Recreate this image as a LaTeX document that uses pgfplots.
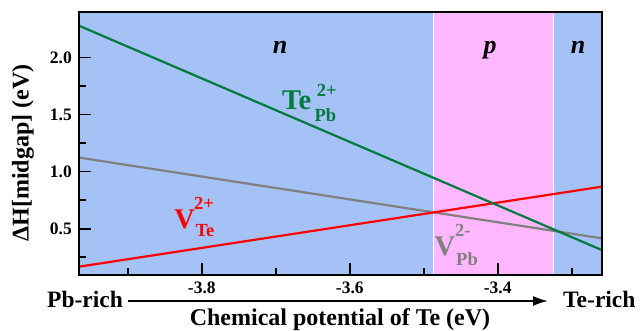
\documentclass[border=0pt]{standalone}
\usepackage{pgfplots}
\pgfplotsset{compat=1.18}
\usepackage{fontspec}
\setmainfont{Liberation Serif}
\usetikzlibrary{arrows.meta}
\definecolor{bgblue}{RGB}{164,194,245}
\definecolor{bgpink}{RGB}{255,184,255}
\definecolor{lgreen}{RGB}{0,122,61}
\definecolor{lgray}{RGB}{128,128,128}
\begin{document}
\begin{tikzpicture}[
  mainlab/.style={anchor=base west, inner sep=0pt, font=\fontsize{28.5}{28.5}\selectfont\bfseries},
  scrlab/.style={anchor=base west, inner sep=0pt, font=\fontsize{18.5}{18.5}\selectfont\bfseries}]
\useasboundingbox (-79pt,-56pt) rectangle (565pt,275pt);
\begin{axis}[
  at={(0,0)}, anchor=south west,
  scale only axis, width=522.7pt, height=262.7pt,
  xmin=-3.966, xmax=-3.2595, ymin=0.0948, ymax=2.394,
  axis on top,
  axis line style={line width=1.8pt},
  tick align=inside,
  xtick pos=left, ytick pos=left,
  xtick={-3.8,-3.6,-3.4},
  minor xtick={-3.9,-3.7,-3.5,-3.3},
  ytick={0.5,1.0,1.5,2.0},
  minor ytick={0.25,0.75,1.25,1.75},
  major tick length=12pt, minor tick length=7pt,
  major tick style={line width=1.6pt, black},
  minor tick style={line width=1.6pt, black},
  xticklabel style={font=\fontsize{17.5}{17.5}\selectfont\bfseries, inner sep=0pt, anchor=north, yshift=-7pt},
  yticklabel style={font=\fontsize{17.5}{17.5}\selectfont\bfseries, inner sep=0pt, anchor=east, xshift=-7pt},
  /pgf/number format/assume math mode=true,
  xticklabel={\pgfmathprintnumber[fixed,precision=1,fixed zerofill]{\tick}},
  yticklabel={\pgfmathprintnumber[fixed,precision=1,fixed zerofill]{\tick}},
]
% regions
\addplot[fill=bgblue, draw=none] coordinates {(-3.966,0.0948) (-3.487,0.0948) (-3.487,2.394) (-3.966,2.394)} -- cycle;
\addplot[fill=bgpink, draw=none] coordinates {(-3.487,0.0948) (-3.3243,0.0948) (-3.3243,2.394) (-3.487,2.394)} -- cycle;
\addplot[fill=bgblue, draw=none] coordinates {(-3.3243,0.0948) (-3.2595,0.0948) (-3.2595,2.394) (-3.3243,2.394)} -- cycle;
\addplot[white, line width=0.8pt] coordinates {(-3.487,0.0948) (-3.487,2.394)};
\addplot[white, line width=0.8pt] coordinates {(-3.3243,0.0948) (-3.3243,2.394)};
% lines
\addplot[lgray, line width=2.2pt] coordinates {(-3.966,1.1225) (-3.2595,0.416)};
\addplot[red, line width=2.2pt] coordinates {(-3.966,0.1675) (-3.2595,0.8675)};
\addplot[lgreen, line width=2.2pt] coordinates {(-3.966,2.2765) (-3.2595,0.3136)};
\end{axis}
% region labels
\node[anchor=base, inner sep=0pt, font=\fontsize{26}{26}\selectfont\bfseries\itshape] at (201pt,221.7pt) {n};
\node[anchor=base, inner sep=0pt, font=\fontsize{26}{26}\selectfont\bfseries\itshape] at (411pt,221.7pt) {p};
\node[anchor=base, inner sep=0pt, font=\fontsize{26}{26}\selectfont\bfseries\itshape] at (499pt,221.7pt) {n};
% series labels
\node[mainlab, text=lgreen] at (203pt,165.7pt) {Te};
\node[scrlab, text=lgreen] at (237.7pt,178.3pt) {2+};
\node[scrlab, text=lgreen] at (235.3pt,153.3pt) {Pb};
\node[mainlab, text=red] at (95.2pt,46.7pt) {V};
\node[scrlab, text=red] at (115pt,65pt) {2+};
\node[scrlab, text=red] at (116.3pt,38.3pt) {Te};
\node[mainlab, text=lgray] at (355.5pt,19.7pt) {V};
\node[scrlab, text=lgray] at (376pt,38pt) {2-};
\node[scrlab, text=lgray] at (377pt,9pt) {Pb};
% axis labels
\node[rotate=90, inner sep=0pt, font=\fontsize{24}{24}\selectfont\bfseries] at (-56pt,122pt) {ΔH[midgap] (eV)};
\node[anchor=base, inner sep=0pt, font=\fontsize{23.5}{23.5}\selectfont\bfseries] at (6pt,-33pt) {Pb-rich};
\node[anchor=base west, inner sep=0pt, font=\fontsize{23.5}{23.5}\selectfont\bfseries] at (484pt,-33pt) {Te-rich};
\draw[-{Latex[length=15pt,width=10pt]}, line width=1.8pt] (49pt,-26pt) -- (469pt,-26pt);
\node[anchor=base, inner sep=0pt, font=\fontsize{24}{24}\selectfont\bfseries] at (261pt,-50pt) {Chemical potential of Te (eV)};
\end{tikzpicture}
\end{document}
